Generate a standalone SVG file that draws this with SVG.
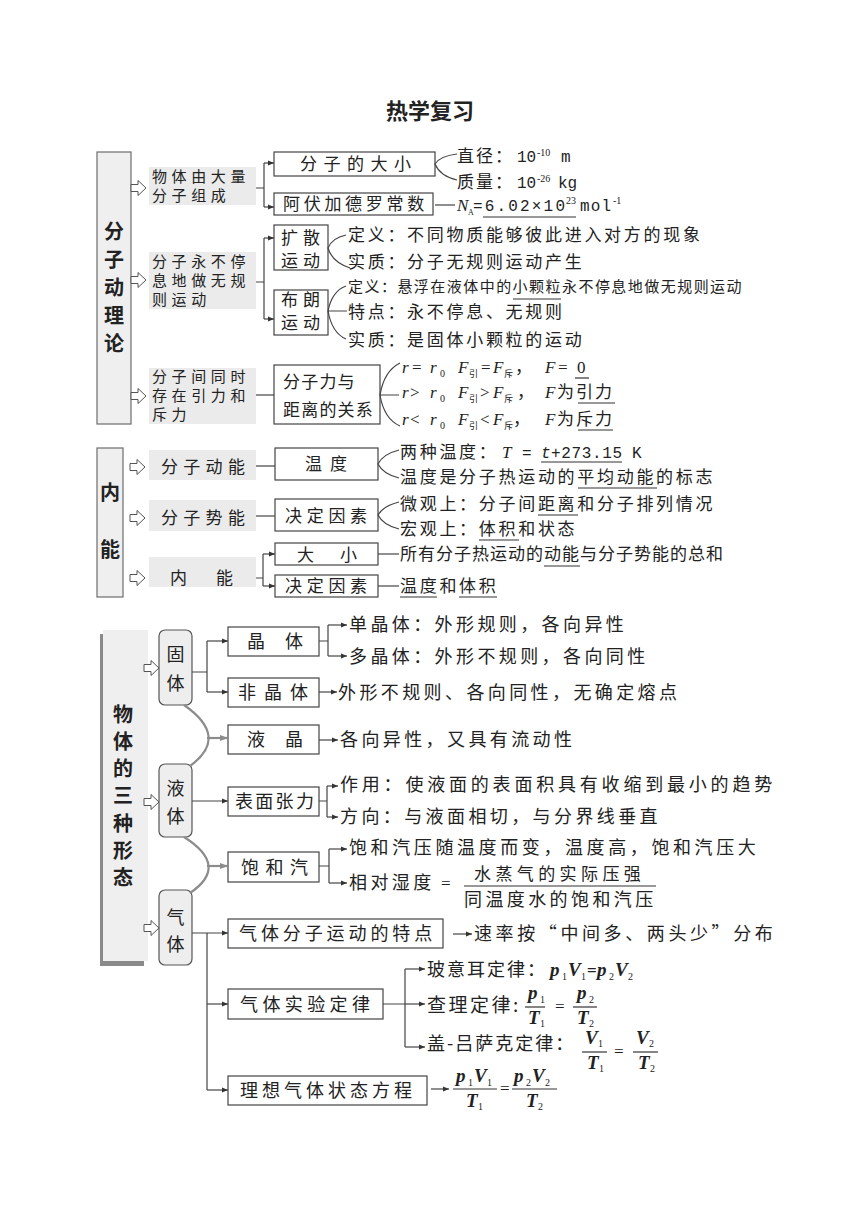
<svg xmlns="http://www.w3.org/2000/svg" width="860" height="1214" viewBox="0 0 860 1214">
<defs>
<style>
.cn{font-family:"Noto Sans CJK SC",sans-serif;font-size:17px;fill:#222}
.c15{font-size:15px}
.c18{font-size:18px}
.h{font-weight:bold;font-size:20px}
.m{font-family:"Liberation Serif","Noto Sans CJK SC",serif;font-size:17px;fill:#222}
.mono{font-family:"Liberation Mono","Noto Sans CJK SC",monospace;font-size:16px;fill:#222}
.i{font-style:italic}
.bi{font-style:italic;font-weight:bold;font-size:19px}
.sub{font-size:10px}
.box{fill:#fff;stroke:#444;stroke-width:1.2}
.rbox{fill:#eeeeee;stroke:#555;stroke-width:1.2}
.lab{fill:#ebebeb}
.ln{fill:none;stroke:#444;stroke-width:1.2}
.ar{marker-end:url(#ah)}
.g{fill:none;stroke:#8c8c8c;stroke-width:2.2}
.ga{marker-end:url(#gah)}
.ul{stroke:#333;stroke-width:1.2}
.ha{fill:#fff;stroke:#555;stroke-width:1}
</style>
<marker id="ah" viewBox="0 0 6 6" markerWidth="6" markerHeight="6" refX="6" refY="3" orient="auto" markerUnits="userSpaceOnUse"><path d="M0,0.6 L6,3 L0,5.4Z" fill="#333"/></marker>
<marker id="gah" viewBox="0 0 8 8" markerWidth="8" markerHeight="8" refX="8" refY="4" orient="auto" markerUnits="userSpaceOnUse"><path d="M0,1 L8,4 L0,7Z" fill="#8c8c8c"/></marker>
<path id="hollow" d="M0,-3.5 H7 V-7.5 L15,0 L7,7.5 V3.5 H0 Z"/>
</defs>
<rect width="860" height="1214" fill="#fff"/>

<text class="cn" x="430" y="119" text-anchor="middle" style="font-size:22px;font-weight:bold">热学复习</text>

<!-- ============ Section 1 ============ -->
<g id="sec1-title">
<rect x="97" y="152" width="34" height="272" fill="#efefef" stroke="#777" stroke-width="1.3"/>
<text class="cn h" x="114" y="239" text-anchor="middle">分</text>
<text class="cn h" x="114" y="267" text-anchor="middle">子</text>
<text class="cn h" x="114" y="295" text-anchor="middle">动</text>
<text class="cn h" x="114" y="323" text-anchor="middle">理</text>
<text class="cn h" x="114" y="351" text-anchor="middle">论</text>
</g>
<g id="sec1-arrows">
<use href="#hollow" class="ha" x="131" y="188"/>
<use href="#hollow" class="ha" x="131" y="280"/>
<use href="#hollow" class="ha" x="131" y="396"/>
</g>

<g id="n-wuti">
<rect class="lab" x="149" y="167" width="107" height="38"/>
<text class="cn c15" letter-spacing="4.6"><tspan x="152" y="182">物体由大量</tspan><tspan x="152" y="201">分子组成</tspan></text>
</g>
<g id="n-fenzi-daxiao">
<rect class="box" x="274" y="152" width="161" height="24"/>
<text class="cn" x="300" y="170" letter-spacing="6.5">分子的大小</text>
</g>
<g id="n-avogadro">
<rect class="box" x="274" y="193" width="159" height="22"/>
<text class="cn" x="283" y="210" letter-spacing="3.7">阿伏加德罗常数</text>
</g>
<g id="t-size">
<text class="cn" x="457" y="162" letter-spacing="2">直径：</text>
<text class="mono" x="517" y="162">10</text>
<text class="m sub" x="537" y="156">-10</text>
<text class="mono" x="561" y="162">m</text>
<text class="cn" x="457" y="188" letter-spacing="2">质量：</text>
<text class="mono" x="517" y="188">10</text>
<text class="m sub" x="537" y="182">-26</text>
<text class="mono" x="558" y="188">kg</text>
</g>
<g id="t-na">
<text class="m i" x="457" y="211">N</text>
<text class="m sub" x="468" y="215" style="font-size:8px">A</text>
<text class="mono" x="473" y="211" textLength="92" lengthAdjust="spacing">=6.02×10</text>
<text class="m sub" x="566" y="204">23</text>
<text class="mono" x="580" y="211" textLength="31" lengthAdjust="spacing">mol</text>
<text class="m sub" x="613" y="204">-1</text>
<line class="ul" x1="483" y1="217" x2="576" y2="217"/>
</g>

<g id="n-yundong">
<rect class="lab" x="149" y="252" width="107" height="57"/>
<text class="cn c15" letter-spacing="4.6"><tspan x="152" y="267">分子永不停</tspan><tspan x="152" y="286">息地做无规</tspan><tspan x="152" y="305">则运动</tspan></text>
</g>
<g id="n-kuosan">
<rect class="box" x="274" y="225" width="54" height="45"/>
<text class="cn" letter-spacing="5"><tspan x="281" y="244">扩散</tspan><tspan x="281" y="267">运动</tspan></text>
</g>
<g id="n-bulang">
<rect class="box" x="274" y="290" width="54" height="45"/>
<text class="cn" letter-spacing="5"><tspan x="281" y="306">布朗</tspan><tspan x="281" y="329">运动</tspan></text>
</g>
<g id="t-kuosan">
<text class="cn" x="348" y="241" letter-spacing="2.7">定义：不同物质能够彼此进入对方的现象</text>
<text class="cn" x="348" y="268" letter-spacing="2.7">实质：分子无规则运动产生</text>
</g>
<g id="t-bulang">
<text class="cn c15" x="348" y="292" letter-spacing="1.46">定义：悬浮在液体中的小颗粒永不停息地做无规则运动</text>
<line class="ul" x1="513" y1="299" x2="561" y2="299"/>
<text class="cn" x="348" y="318" letter-spacing="2.7">特点：永不停息、无规则</text>
<text class="cn" x="348" y="346" letter-spacing="2.7">实质：是固体小颗粒的运动</text>
</g>

<g id="n-yinli">
<rect class="lab" x="149" y="368" width="107" height="56"/>
<text class="cn c15" letter-spacing="4.6"><tspan x="152" y="382">分子间同时</tspan><tspan x="152" y="401">存在引力和</tspan><tspan x="152" y="420">斥力</tspan></text>
</g>
<g id="n-fenzili">
<rect class="box" x="274" y="365" width="106" height="59"/>
<text class="cn" letter-spacing="1.2"><tspan x="283" y="388">分子力与</tspan><tspan x="283" y="416">距离的关系</tspan></text>
</g>
<g id="t-fenzili">
<text class="m i" x="402" y="373">r</text>
<text class="m" x="412" y="373">=</text>
<text class="m i" x="430" y="373">r</text>
<text class="m sub" x="440" y="377">0</text>
<text class="m i" x="458" y="373">F</text>
<text class="cn sub" x="469" y="377" style="font-size:9px">引</text>
<text class="m" x="481" y="373">=</text>
<text class="m i" x="493" y="373">F</text>
<text class="cn sub" x="504" y="377" style="font-size:9px">斥</text>
<text class="cn" x="515" y="373">，</text>
<text class="m i" x="545" y="373">F</text>
<text class="m" x="558" y="373">=</text>
<text class="m" x="577" y="373">0</text>
<line class="ul" x1="575" y1="378" x2="589" y2="378"/>

<text class="m i" x="402" y="398">r</text>
<text class="m" x="410" y="398">&gt;</text>
<text class="m i" x="430" y="398">r</text>
<text class="m sub" x="440" y="402">0</text>
<text class="m i" x="458" y="398">F</text>
<text class="cn sub" x="469" y="402" style="font-size:9px">引</text>
<text class="m" x="480" y="398">&gt;</text>
<text class="m i" x="493" y="398">F</text>
<text class="cn sub" x="504" y="402" style="font-size:9px">斥</text>
<text class="cn" x="517" y="398">，</text>
<text class="m i" x="545" y="398">F</text>
<text class="cn" x="557" y="398" letter-spacing="2">为引力</text>
<line class="ul" x1="578" y1="403" x2="615" y2="403"/>

<text class="m i" x="402" y="425">r</text>
<text class="m" x="410" y="425">&lt;</text>
<text class="m i" x="430" y="425">r</text>
<text class="m sub" x="440" y="429">0</text>
<text class="m i" x="458" y="425">F</text>
<text class="cn sub" x="469" y="429" style="font-size:9px">引</text>
<text class="m" x="480" y="425">&lt;</text>
<text class="m i" x="493" y="425">F</text>
<text class="cn sub" x="504" y="429" style="font-size:9px">斥</text>
<text class="cn" x="513" y="425">，</text>
<text class="m i" x="545" y="425">F</text>
<text class="cn" x="557" y="425" letter-spacing="2">为斥力</text>
<line class="ul" x1="578" y1="430" x2="613" y2="430"/>
</g>

<!-- ============ Section 2 ============ -->
<g id="sec2-title">
<rect x="97" y="448" width="26" height="149" fill="#efefef" stroke="#777" stroke-width="1.3"/>
<text class="cn h" x="110" y="500" text-anchor="middle">内</text>
<text class="cn h" x="110" y="557" text-anchor="middle">能</text>
</g>
<g id="sec2-arrows">
<use href="#hollow" class="ha" x="130" y="467"/>
<use href="#hollow" class="ha" x="130" y="518"/>
<use href="#hollow" class="ha" x="130" y="578"/>
</g>
<g id="n-dongneng">
<rect class="lab" x="149" y="450" width="107" height="30"/>
<text class="cn" x="161" y="473" letter-spacing="5.3">分子动能</text>
</g>
<g id="n-shineng">
<rect class="lab" x="149" y="500" width="107" height="31"/>
<text class="cn" x="161" y="524" letter-spacing="5.3">分子势能</text>
</g>
<g id="n-neineng">
<rect class="lab" x="149" y="557" width="107" height="30"/>
<text class="cn" x="170" y="584" letter-spacing="29">内能</text>
</g>
<g id="n-wendu">
<rect class="box" x="275" y="448" width="103" height="32"/>
<text class="cn" x="305" y="470" letter-spacing="8">温度</text>
</g>
<g id="n-yinsu1">
<rect class="box" x="275" y="499" width="103" height="32"/>
<text class="cn" x="285" y="522" letter-spacing="4.7">决定因素</text>
</g>
<g id="n-daxiao">
<rect class="box" x="275" y="543" width="103" height="22"/>
<text class="cn" x="297" y="561" letter-spacing="26">大小</text>
</g>
<g id="n-yinsu2">
<rect class="box" x="275" y="575" width="103" height="22"/>
<text class="cn" x="285" y="592" letter-spacing="4.7">决定因素</text>
</g>
<g id="t-wendu">
<text class="cn" x="400" y="458" letter-spacing="2.7">两种温度：</text>
<text class="m i" x="502" y="458">T</text>
<text class="mono" x="522" y="458">=</text>
<text class="mono i" x="541" y="458">t</text>
<text class="mono" x="551" y="458" textLength="71" lengthAdjust="spacing">+273.15</text>
<text class="mono" x="632" y="458">K</text>
<line class="ul" x1="541" y1="462" x2="622" y2="462"/>
<text class="cn" x="400" y="483" letter-spacing="2.7">温度是分子热运动的平均动能的标志</text>
<line class="ul" x1="578" y1="488" x2="657" y2="488"/>
</g>
<g id="t-shineng">
<text class="cn" x="400" y="510" letter-spacing="2.7">微观上：分子间距离和分子排列情况</text>
<line class="ul" x1="538" y1="515" x2="578" y2="515"/>
<text class="cn" x="400" y="535" letter-spacing="2.7">宏观上：体积和状态</text>
<line class="ul" x1="479" y1="540" x2="519" y2="540"/>
</g>
<g id="t-neineng">
<text class="cn" x="400" y="560" letter-spacing="1">所有分子热运动的动能与分子势能的总和</text>
<line class="ul" x1="544" y1="566" x2="580" y2="566"/>
<text class="cn" x="400" y="592" letter-spacing="2.7">温度和体积</text>
<line class="ul" x1="400" y1="597" x2="437" y2="597"/>
<line class="ul" x1="459" y1="597" x2="497" y2="597"/>
</g>

<!-- ============ Section 3 ============ -->
<g id="sec3-title">
<rect x="100" y="634" width="44" height="332" fill="#8a8a8a"/>
<rect x="103" y="630" width="45" height="331" fill="#efefef"/>
<text class="cn h" x="123" y="722" text-anchor="middle">物</text>
<text class="cn h" x="123" y="749" text-anchor="middle">体</text>
<text class="cn h" x="123" y="776" text-anchor="middle">的</text>
<text class="cn h" x="123" y="803" text-anchor="middle">三</text>
<text class="cn h" x="123" y="831" text-anchor="middle">种</text>
<text class="cn h" x="123" y="858" text-anchor="middle">形</text>
<text class="cn h" x="123" y="885" text-anchor="middle">态</text>
</g>
<g id="sec3-arrows">
<use href="#hollow" class="ha" x="144" y="668"/>
<use href="#hollow" class="ha" x="144" y="802"/>
<use href="#hollow" class="ha" x="144" y="928"/>
</g>
<g id="n-guti">
<rect class="rbox" x="159" y="630" width="33" height="75" rx="6"/>
<text class="cn c18" text-anchor="middle"><tspan x="175.5" y="661">固</tspan><tspan x="175.5" y="690">体</tspan></text>
</g>
<g id="n-yeti">
<rect class="rbox" x="159" y="764" width="33" height="73" rx="6"/>
<text class="cn c18" text-anchor="middle"><tspan x="175.5" y="795">液</tspan><tspan x="175.5" y="823">体</tspan></text>
</g>
<g id="n-qiti">
<rect class="rbox" x="159" y="890" width="33" height="75" rx="6"/>
<text class="cn c18" text-anchor="middle"><tspan x="175.5" y="924">气</tspan><tspan x="175.5" y="951">体</tspan></text>
</g>

<g id="n-jingti">
<rect class="box" x="228" y="627" width="91" height="29"/>
<text class="cn c18" x="247" y="648" letter-spacing="20">晶体</text>
</g>
<g id="n-feijingti">
<rect class="box" x="228" y="678" width="91" height="29"/>
<text class="cn c18" x="238" y="699" letter-spacing="8">非晶体</text>
</g>
<g id="n-yejing">
<rect class="box" x="228" y="725" width="91" height="29"/>
<text class="cn c18" x="247" y="746" letter-spacing="20">液晶</text>
</g>
<g id="n-zhangli">
<rect class="box" x="228" y="787" width="91" height="29"/>
<text class="cn c18" x="235" y="808" letter-spacing="2.3">表面张力</text>
</g>
<g id="n-baohe">
<rect class="box" x="228" y="852" width="91" height="30"/>
<text class="cn c18" x="241" y="874" letter-spacing="6.5">饱和汽</text>
</g>
<g id="n-tedian">
<rect class="box" x="228" y="919" width="215" height="29"/>
<text class="cn c18" x="239" y="940" letter-spacing="3.9">气体分子运动的特点</text>
</g>
<g id="n-shiyan">
<rect class="box" x="228" y="989" width="155" height="30"/>
<text class="cn c18" x="240" y="1011" letter-spacing="4.4">气体实验定律</text>
</g>
<g id="n-fangcheng">
<rect class="box" x="228" y="1076" width="199" height="29"/>
<text class="cn c18" x="240" y="1097" letter-spacing="4">理想气体状态方程</text>
</g>

<g id="t-jingti">
<text class="cn c18" x="349" y="631" letter-spacing="3.4">单晶体：外形规则，各向异性</text>
<text class="cn c18" x="349" y="663" letter-spacing="3.4">多晶体：外形不规则，各向同性</text>
<text class="cn c18" x="338" y="699" letter-spacing="3.4">外形不规则、各向同性，无确定熔点</text>
<text class="cn c18" x="340" y="746" letter-spacing="3.4">各向异性，又具有流动性</text>
</g>
<g id="t-yeti">
<text class="cn c18" x="340" y="791" letter-spacing="3.8">作用：使液面的表面积具有收缩到最小的趋势</text>
<text class="cn c18" x="340" y="823" letter-spacing="3.4">方向：与液面相切，与分界线垂直</text>
<text class="cn c18" x="349" y="854" letter-spacing="3.6">饱和汽压随温度而变，温度高，饱和汽压大</text>
<text class="cn c18" x="349" y="889" letter-spacing="3.4">相对湿度</text>
<text class="m" x="441" y="889">=</text>
<text class="cn" x="474" y="880" letter-spacing="4.4">水蒸气的实际压强</text>
<line class="ul" x1="464" y1="886" x2="656" y2="886"/>
<text class="cn c18" x="464" y="906" letter-spacing="3.4">同温度水的饱和汽压</text>
</g>
<g id="t-qiti">
<text class="cn c18" x="474" y="940" letter-spacing="3.6">速率按“中间多、两头少”分布</text>
<text class="cn c18" x="427" y="976" letter-spacing="2">玻意耳定律：</text>
<text class="m bi" x="550" y="976">p</text><text class="m sub" x="562" y="980">1</text>
<text class="m bi" x="568" y="976">V</text><text class="m sub" x="581" y="980">1</text>
<text class="m" x="587" y="976" style="font-weight:bold">=</text>
<text class="m bi" x="597" y="976">p</text><text class="m sub" x="609" y="980">2</text>
<text class="m bi" x="615" y="976">V</text><text class="m sub" x="628" y="980">2</text>

<text class="cn" x="427" y="1012" style="font-size:19px" letter-spacing="2.5">查理定律:</text>
<text class="m bi" x="528" y="999">p</text><text class="m sub" x="540" y="1003">1</text>
<line class="ul" x1="525" y1="1007" x2="545" y2="1007"/>
<text class="m bi" x="528" y="1024">T</text><text class="m sub" x="540" y="1027">1</text>
<text class="m" x="555" y="1012">=</text>
<text class="m bi" x="577" y="999">p</text><text class="m sub" x="589" y="1003">2</text>
<line class="ul" x1="573" y1="1007" x2="597" y2="1007"/>
<text class="m bi" x="577" y="1024">T</text><text class="m sub" x="589" y="1027">2</text>

<text class="cn c18" x="427" y="1050" letter-spacing="2">盖-吕萨克定律：</text>
<text class="m bi" x="585" y="1044">V</text><text class="m sub" x="598" y="1047">1</text>
<line class="ul" x1="582" y1="1052" x2="607" y2="1052"/>
<text class="m bi" x="587" y="1069">T</text><text class="m sub" x="599" y="1072">1</text>
<text class="m" x="614" y="1057">=</text>
<text class="m bi" x="636" y="1044">V</text><text class="m sub" x="649" y="1047">2</text>
<line class="ul" x1="633" y1="1052" x2="658" y2="1052"/>
<text class="m bi" x="638" y="1069">T</text><text class="m sub" x="650" y="1072">2</text>

<text class="m bi" x="456" y="1082">p</text><text class="m sub" x="468" y="1086">1</text>
<text class="m bi" x="474" y="1082">V</text><text class="m sub" x="487" y="1086">1</text>
<line class="ul" x1="453" y1="1089" x2="497" y2="1089"/>
<text class="m bi" x="466" y="1107">T</text><text class="m sub" x="478" y="1110">1</text>
<text class="m" x="500" y="1094">=</text>
<text class="m bi" x="514" y="1082">p</text><text class="m sub" x="526" y="1086">2</text>
<text class="m bi" x="532" y="1082">V</text><text class="m sub" x="545" y="1086">2</text>
<line class="ul" x1="512" y1="1089" x2="557" y2="1089"/>
<text class="m bi" x="526" y="1107">T</text><text class="m sub" x="538" y="1110">2</text>
</g>

<!-- ============ Connectors ============ -->
<g id="connectors">
<path class="ln" d="M256,188 H264 M264,163 V207"/>
<path class="ln ar" d="M264,163 H274"/>
<path class="ln ar" d="M264,207 H274"/>
<path class="ln" d="M457,154 Q440,156 435,164 Q440,176 457,180"/>
<path class="ln" d="M435,205 H455"/>
<path class="ln" d="M256,282 H264 M264,238 V319"/>
<path class="ln ar" d="M264,238 H274"/>
<path class="ln ar" d="M264,319 H274"/>
<path class="ln" d="M346,235 Q332,238 328,248 Q332,262 350,268"/>
<path class="ln" d="M346,286 Q332,291 328,311 Q332,333 346,339 M328,311 H347"/>
<path class="ln" d="M256,395 H274"/>
<path class="ln" d="M400,363 Q384,371 380,395 Q384,419 400,426 M380,395 H399"/>
<path class="ln" d="M256,466 H275"/>
<path class="ln" d="M256,516 H275"/>
<path class="ln" d="M256,578 H263 M263,554 V586"/>
<path class="ln ar" d="M263,554 H275"/>
<path class="ln ar" d="M263,586 H275"/>
<path class="ln" d="M399,450 Q383,454 378,464 Q383,474 399,478"/>
<path class="ln" d="M399,502 Q383,506 378,515 Q383,525 399,529"/>
<path class="ln" d="M378,554 H399"/>
<path class="ln" d="M378,586 H399"/>
<path class="ln" d="M192,672 H207 M207,641 V692"/>
<path class="ln ar" d="M207,641 H228"/>
<path class="ln ar" d="M207,692 H228"/>
<path class="ln" d="M319,641 H328 M328,625 V656"/>
<path class="ln ar" d="M328,625 H347"/>
<path class="ln ar" d="M328,656 H347"/>
<path class="ln ar" d="M319,692 H337"/>
<path class="g" d="M184,705 Q230,737 190,766"/>
<path class="g ga" d="M207,738 H228"/>
<path class="ln ar" d="M319,740 H338"/>
<path class="ln ar" d="M192,801 H228"/>
<path class="ln" d="M319,801 H327 M327,786 V817"/>
<path class="ln ar" d="M327,786 H338"/>
<path class="ln ar" d="M327,817 H338"/>
<path class="g" d="M184,837 Q230,866 190,893"/>
<path class="g ga" d="M207,866 H228"/>
<path class="ln" d="M319,866 H329 M329,849 V883"/>
<path class="ln ar" d="M329,849 H347"/>
<path class="ln ar" d="M329,883 H347"/>
<path class="ln ar" d="M192,933 H228"/>
<path class="ln ar" d="M453,934 H472"/>
<path class="ln" d="M207,933 V1090"/>
<path class="ln ar" d="M207,1004 H228"/>
<path class="ln ar" d="M207,1090 H228"/>
<path class="ln" d="M383,1004 H405 M405,969 V1047"/>
<path class="ln ar" d="M405,969 H425"/>
<path class="ln ar" d="M405,1004 H425"/>
<path class="ln ar" d="M405,1047 H425"/>
<path class="ln ar" d="M431,1089 H449"/>
</g>
</svg>
